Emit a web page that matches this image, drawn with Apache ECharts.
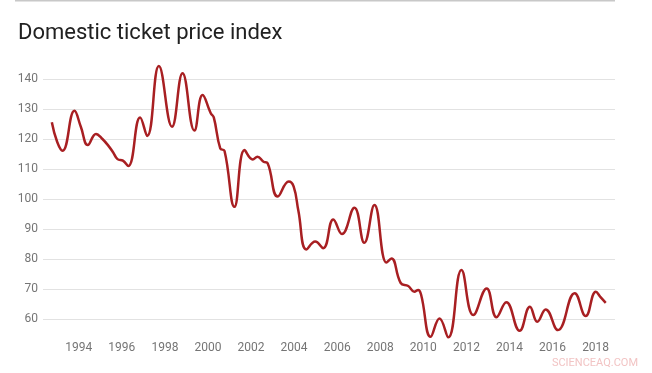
<!DOCTYPE html>
<html>
<head>
<meta charset="utf-8">
<script src="https://cdn.jsdelivr.net/npm/echarts@6/dist/echarts.min.js"></script>
<style>
html,body{margin:0;padding:0;background:#fff;}
#chart{width:652px;height:373px;}
</style>
</head>
<body>
<div id="chart"></div>
<script>
// Chart data (year, index value)
const titleText = "Domestic ticket price index";
const years = [
  1992.75, 1993.0, 1993.25, 1993.8, 1994.1, 1994.42, 1994.8, 1995.1, 1995.38, 1995.6,
  1995.8, 1996.05, 1996.3, 1996.85, 1997.18, 1997.72, 1998.33, 1998.82, 1999.37, 1999.75,
  2000.13, 2000.27, 2000.57, 2000.77, 2001.23, 2001.7, 2002.08, 2002.3, 2002.58, 2002.77,
  2003.24, 2003.75, 2003.98, 2004.2, 2004.57, 2004.98, 2005.35, 2005.82, 2006.22, 2006.8,
  2007.26, 2007.73, 2008.29, 2008.52, 2008.95, 2009.3, 2009.58, 2009.76, 2009.9, 2010.34,
  2010.75, 2011.16, 2011.77, 2012.32, 2012.94, 2013.4, 2013.85, 2014.47, 2014.95, 2015.29,
  2015.68, 2016.25, 2017.03, 2017.54, 2018.01, 2018.24, 2018.47
];
const values = [
  125.6, 119.0, 116.1, 129.4, 124.0, 118.0, 121.7, 120.0, 117.7, 115.5,
  113.3, 112.8, 111.0, 127.2, 121.0, 144.3, 124.1, 141.9, 122.8, 134.7,
  128.6, 127.2, 116.9, 116.0, 97.4, 116.3, 113.2, 114.1, 112.4, 111.9,
  100.8, 105.8, 104.1, 96.0, 83.2, 85.8, 83.6, 93.2, 88.3, 97.1,
  85.4, 98.0, 78.8, 80.2, 72.0, 71.0, 69.1, 69.7, 68.0, 54.1,
  60.2, 53.9, 76.3, 61.3, 70.2, 60.6, 65.6, 56.1, 64.1, 59.1,
  63.2, 56.3, 68.6, 61.0, 69.1, 67.2, 65.4
];
const yTicks = [60, 70, 80, 90, 100, 110, 120, 130, 140];
const xTicks = [1994, 1996, 1998, 2000, 2002, 2004, 2006, 2008, 2010, 2012, 2014, 2016, 2018];
const watermark = "SCIENCEAQ.COM";

const seriesData = years.map((y, i) => [y, values[i]]);

const chart = echarts.init(document.getElementById('chart'), null, {renderer: 'canvas'});
chart.setOption({
  backgroundColor: '#fff',
  animation: false,
  title: {
    text: titleText,
    left: 18,
    top: 22,
    padding: 0,
    textStyle: {fontFamily: 'Roboto', fontSize: 22, fontWeight: 'normal', color: '#212121'}
  },
  graphic: [
    {type: 'line', shape: {x1: 15, y1: 0.5, x2: 615, y2: 0.5}, style: {stroke: '#c8c8c8', lineWidth: 2}},
    {type: 'text', right: 14, bottom: 4, style: {text: watermark, fontFamily: 'Roboto', fontSize: 11, fill: '#f2c4c4'}}
  ],
  grid: {left: 43, right: 37, top: 49, bottom: 24},
  xAxis: {
    type: 'value',
    min: 1992.34,
    max: 2018.9,
    offset: -11,
    axisLine: {show: false},
    axisTick: {show: false},
    splitLine: {show: false},
    axisLabel: {
      margin: 4,
      fontFamily: 'Roboto',
      fontSize: 12,
      color: '#757575',
      customValues: xTicks,
      formatter: v => String(Math.round(v))
    }
  },
  yAxis: {
    type: 'value',
    min: 50,
    max: 150,
    interval: 10,
    axisLine: {show: false},
    axisTick: {show: false},
    splitLine: {show: true, showMinLine: false, showMaxLine: false, lineStyle: {color: '#e2e2e2', width: 1}},
    axisLabel: {
      margin: 5,
      fontFamily: 'Roboto',
      fontSize: 12,
      color: '#757575',
      showMinLabel: false,
      showMaxLabel: false,
      formatter: v => yTicks.includes(v) ? String(v) : ''
    }
  },
  series: [{
    type: 'line',
    data: seriesData,
    smooth: 0.45,
    showSymbol: false,
    lineStyle: {color: '#a81f22', width: 2.5}
  }]
});
</script>
</body>
</html>
